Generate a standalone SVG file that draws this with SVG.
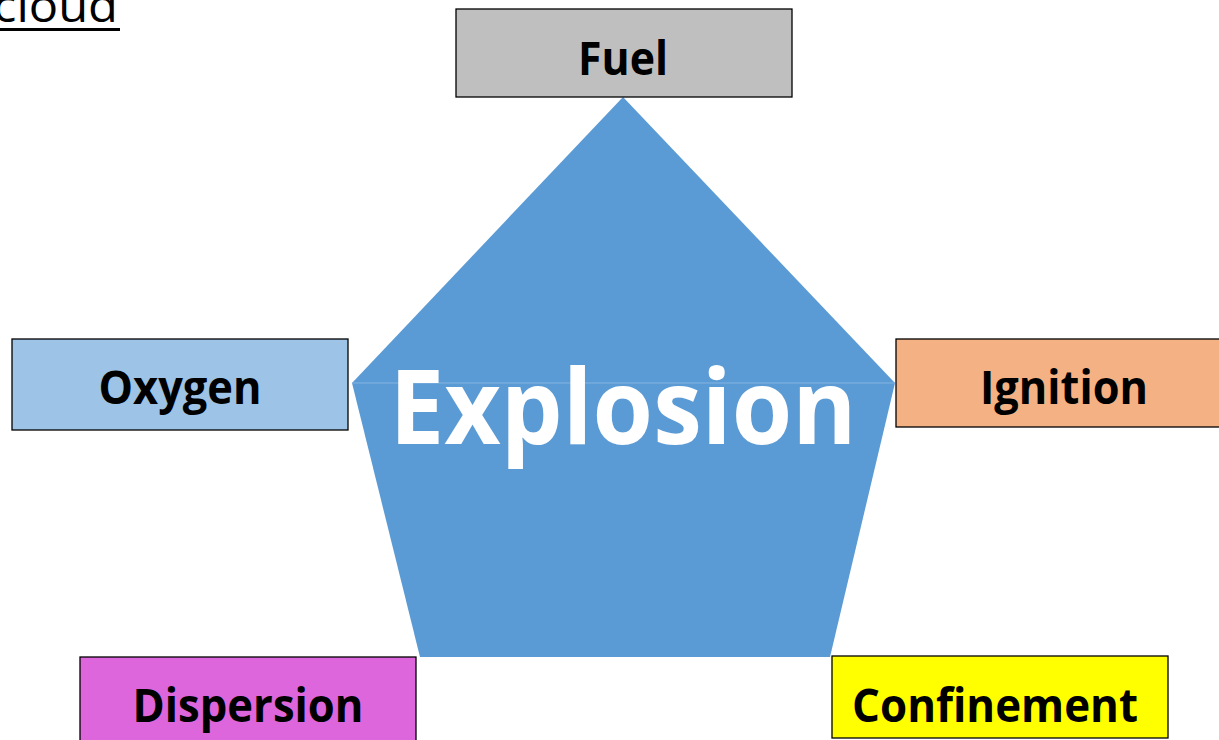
<svg xmlns="http://www.w3.org/2000/svg" width="1219" height="740" viewBox="0 0 1219 740">
<style>
.box{stroke:#000;stroke-width:1.3}
.lbl{font-family:"Open Sans","Liberation Sans",sans-serif;font-weight:bold;font-size:46px;fill:#000;text-anchor:middle}
</style>
<rect width="1219" height="740" fill="#fff"/>
<g id="title">
<text x="-7" y="22" font-family="Open Sans, Liberation Sans, sans-serif" font-size="46" fill="#000" textLength="125" lengthAdjust="spacingAndGlyphs">cloud</text>
<rect x="0" y="28" width="120" height="3" fill="#000"/>
</g>
<g id="explosion">
<polygon points="623,97 895,383 830,657 420,657 352,383" fill="#5b9bd5"/>
<line x1="352" y1="383" x2="895" y2="383" stroke="#85b4e2" stroke-width="1"/>
<text x="623" y="444" font-family="Open Sans, Liberation Sans, sans-serif" font-weight="bold" font-size="104" fill="#fff" text-anchor="middle" textLength="467" lengthAdjust="spacingAndGlyphs">Explosion</text>
</g>
<g id="fuel">
<rect class="box" x="456" y="9" width="336" height="88" fill="#bfbfbf"/>
<text class="lbl" x="623" y="75" textLength="90" lengthAdjust="spacingAndGlyphs">Fuel</text>
</g>
<g id="oxygen">
<rect class="box" x="12" y="339" width="336" height="91" fill="#9dc3e6"/>
<text class="lbl" x="180" y="404" textLength="163" lengthAdjust="spacingAndGlyphs">Oxygen</text>
</g>
<g id="ignition">
<rect class="box" x="896" y="339" width="340" height="88" fill="#f4b183"/>
<text class="lbl" x="1064" y="404" textLength="168" lengthAdjust="spacingAndGlyphs">Ignition</text>
</g>
<g id="dispersion">
<rect class="box" x="80" y="657" width="336" height="90" fill="#dd66dd"/>
<text class="lbl" x="248" y="722" textLength="231" lengthAdjust="spacingAndGlyphs">Dispersion</text>
</g>
<g id="confinement">
<rect class="box" x="832" y="656" width="336" height="82" fill="#ffff00"/>
<text class="lbl" x="995" y="722" textLength="286" lengthAdjust="spacingAndGlyphs">Confinement</text>
</g>
<g id="connectors"></g>
</svg>
